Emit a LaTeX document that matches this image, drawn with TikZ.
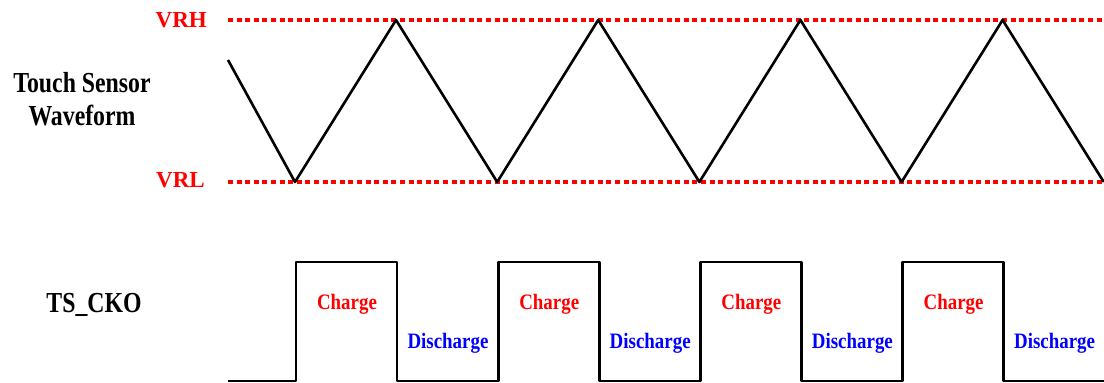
\documentclass[tikz,border=0pt]{standalone}
\usepackage{fontspec}
\setmainfont{Liberation Serif}
\newfontfamily\narrowfont{Liberation Serif}[FakeStretch=0.82]
\newfontfamily\phasefont{Liberation Serif}[FakeStretch=0.86]
\usetikzlibrary{positioning}

\begin{document}
\begin{tikzpicture}[
  x=1pt, y=-1pt,
  wave/.style={line width=2.6pt, line join=round},
  level/.style={red, line width=3.6pt, dash pattern=on 5pt off 3.6pt},
  title/.style={font=\narrowfont\bfseries\fontsize{29}{33}\selectfont,
                align=center, inner sep=0pt, anchor=base},
  vref/.style={red, font=\bfseries\fontsize{23}{26}\selectfont,
               inner sep=0pt, anchor=base east},
  phase/.style={font=\phasefont\bfseries\fontsize{22}{24}\selectfont,
                inner sep=0pt, anchor=base}
]
\useasboundingbox (0,0) rectangle (1104,383);

% reference levels
\node[vref] (vrh) at (207,27) {VRH};
\node[vref] (vrl) at (205,187) {VRL};
\draw[level] (228,20) -- (1104,20);
\draw[level] (228,182) -- (1104,182);

% signal names
\node[title] (tsw) at (82,125) {Touch Sensor\\Waveform};
\node[title] (tsck) at (94,312) {TS\_CKO};

% triangle waveform
\draw[wave] (228,60) -- (295,182)
  \foreach \k in {0,...,3} {
    -- ({396+202.2*\k},20) -- ({497.2+202.2*\k},182)
  };

% clock waveform
\draw[wave] (228,381)
  \foreach \k in {0,...,3} {
    -- ({296+202.2*\k},381) -- ({296+202.2*\k},262)
    -- ({397+202.2*\k},262) -- ({397+202.2*\k},381)
  } -- (1104,381);

\foreach \k in {0,...,3} {
  \node[phase, red] (chg\k) at ({347+202.2*\k},309) {Charge};
  \node[phase, blue] (dis\k) at ({448+202.2*\k},348) {Discharge};
}
\end{tikzpicture}
\end{document}
